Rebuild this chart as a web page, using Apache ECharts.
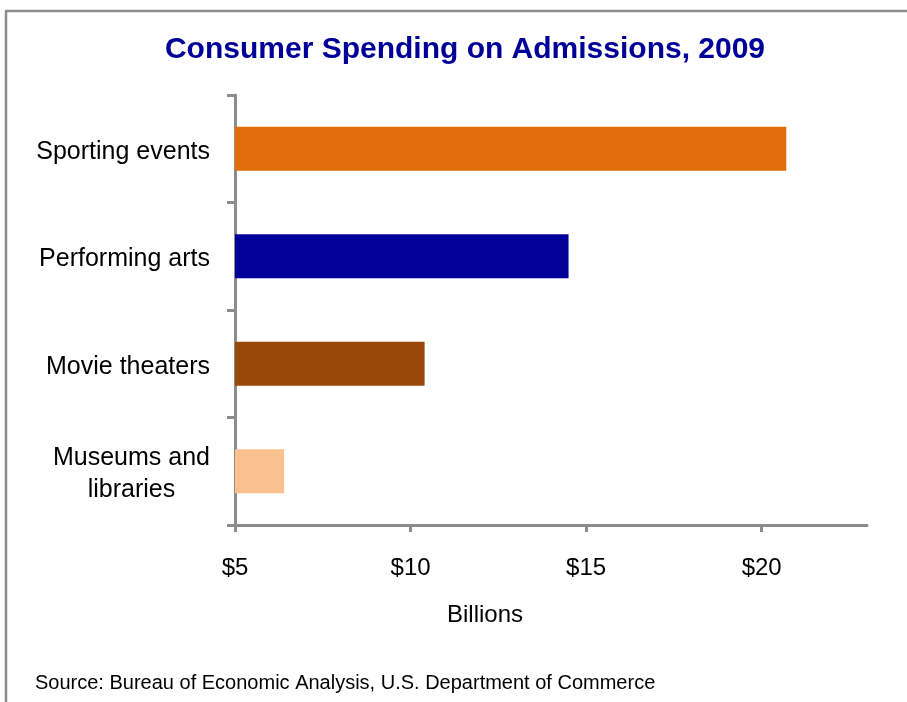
<!DOCTYPE html>
<html>
<head>
<meta charset="utf-8">
<script src="https://cdn.jsdelivr.net/npm/echarts@6/dist/echarts.min.js"></script>
<style>
html,body{margin:0;padding:0;background:#fff;}
#c{width:907px;height:702px;}
</style>
</head>
<body>
<div id="c"></div>
<script>
var categories = ['Sporting events', 'Performing arts', 'Movie theaters', 'Museums and libraries'];
var values = [20.7, 14.5, 10.4, 6.4];
var tickValues = [5, 10, 15, 20];
var barColors = ['#E36C0A', '#000099', '#984807', '#FAC090'];

var chart = echarts.init(document.getElementById('c'));
var font = 'Liberation Sans, Arial, sans-serif';
var axisColor = '#8c8c8c';

chart.setOption({
  backgroundColor: '#fff',
  animation: false,
  title: {
    text: 'Consumer Spending on Admissions, 2009',
    left: 460,
    top: 30,
    textAlign: 'center',
    textStyle: { fontFamily: font, fontSize: 30, fontWeight: 'bold', color: '#000099' }
  },
  grid: { left: 235, right: 40, top: 95, bottom: 177, containLabel: false },
  xAxis: {
    type: 'value',
    min: 5,
    max: 23,
    interval: 5,
    splitLine: { show: false },
    axisLine: { show: true, lineStyle: { color: axisColor, width: 3 } },
    axisTick: { show: true, length: 7, customValues: tickValues, lineStyle: { color: axisColor, width: 3 } },
    axisLabel: {
      customValues: tickValues,
      margin: 31,
      fontFamily: font, fontSize: 24, color: '#000',
      formatter: function (v) { return '$' + v; }
    }
  },
  yAxis: {
    type: 'category',
    inverse: true,
    data: categories,
    axisLine: { show: true, lineStyle: { color: axisColor, width: 3 } },
    axisTick: { show: true, length: 8, lineStyle: { color: axisColor, width: 3 } },
    axisLabel: {
      margin: 25,
      fontFamily: font, fontSize: 25, color: '#000',
      align: 'right',
      lineHeight: 32,
      padding: [6, 0, 0, 0],
      formatter: function (v) {
        if (v === 'Museums and libraries') return '{c|Museums and}\n{c|libraries}';
        return v;
      },
      rich: {
        c: { align: 'center', fontFamily: font, fontSize: 25, color: '#000', lineHeight: 32 }
      }
    }
  },
  series: [{
    type: 'bar',
    barWidth: 44,
    data: values.map(function (v, i) { return { value: v, itemStyle: { color: barColors[i] } }; })
  }],
  graphic: [
    { type: 'line', shape: { x1: 6, y1: 11, x2: 6, y2: 702 }, style: { stroke: axisColor, lineWidth: 2.5 } },
    { type: 'line', shape: { x1: 5, y1: 11, x2: 907, y2: 11 }, style: { stroke: axisColor, lineWidth: 2.5 } },
    { type: 'text', left: 447, top: 603, style: { text: 'Billions', fontFamily: font, fontSize: 24, fill: '#000' } },
    { type: 'text', left: 35, top: 673, style: { text: 'Source: Bureau of Economic Analysis, U.S. Department of Commerce', fontFamily: font, fontSize: 20, fill: '#000' } }
  ]
});
</script>
</body>
</html>
